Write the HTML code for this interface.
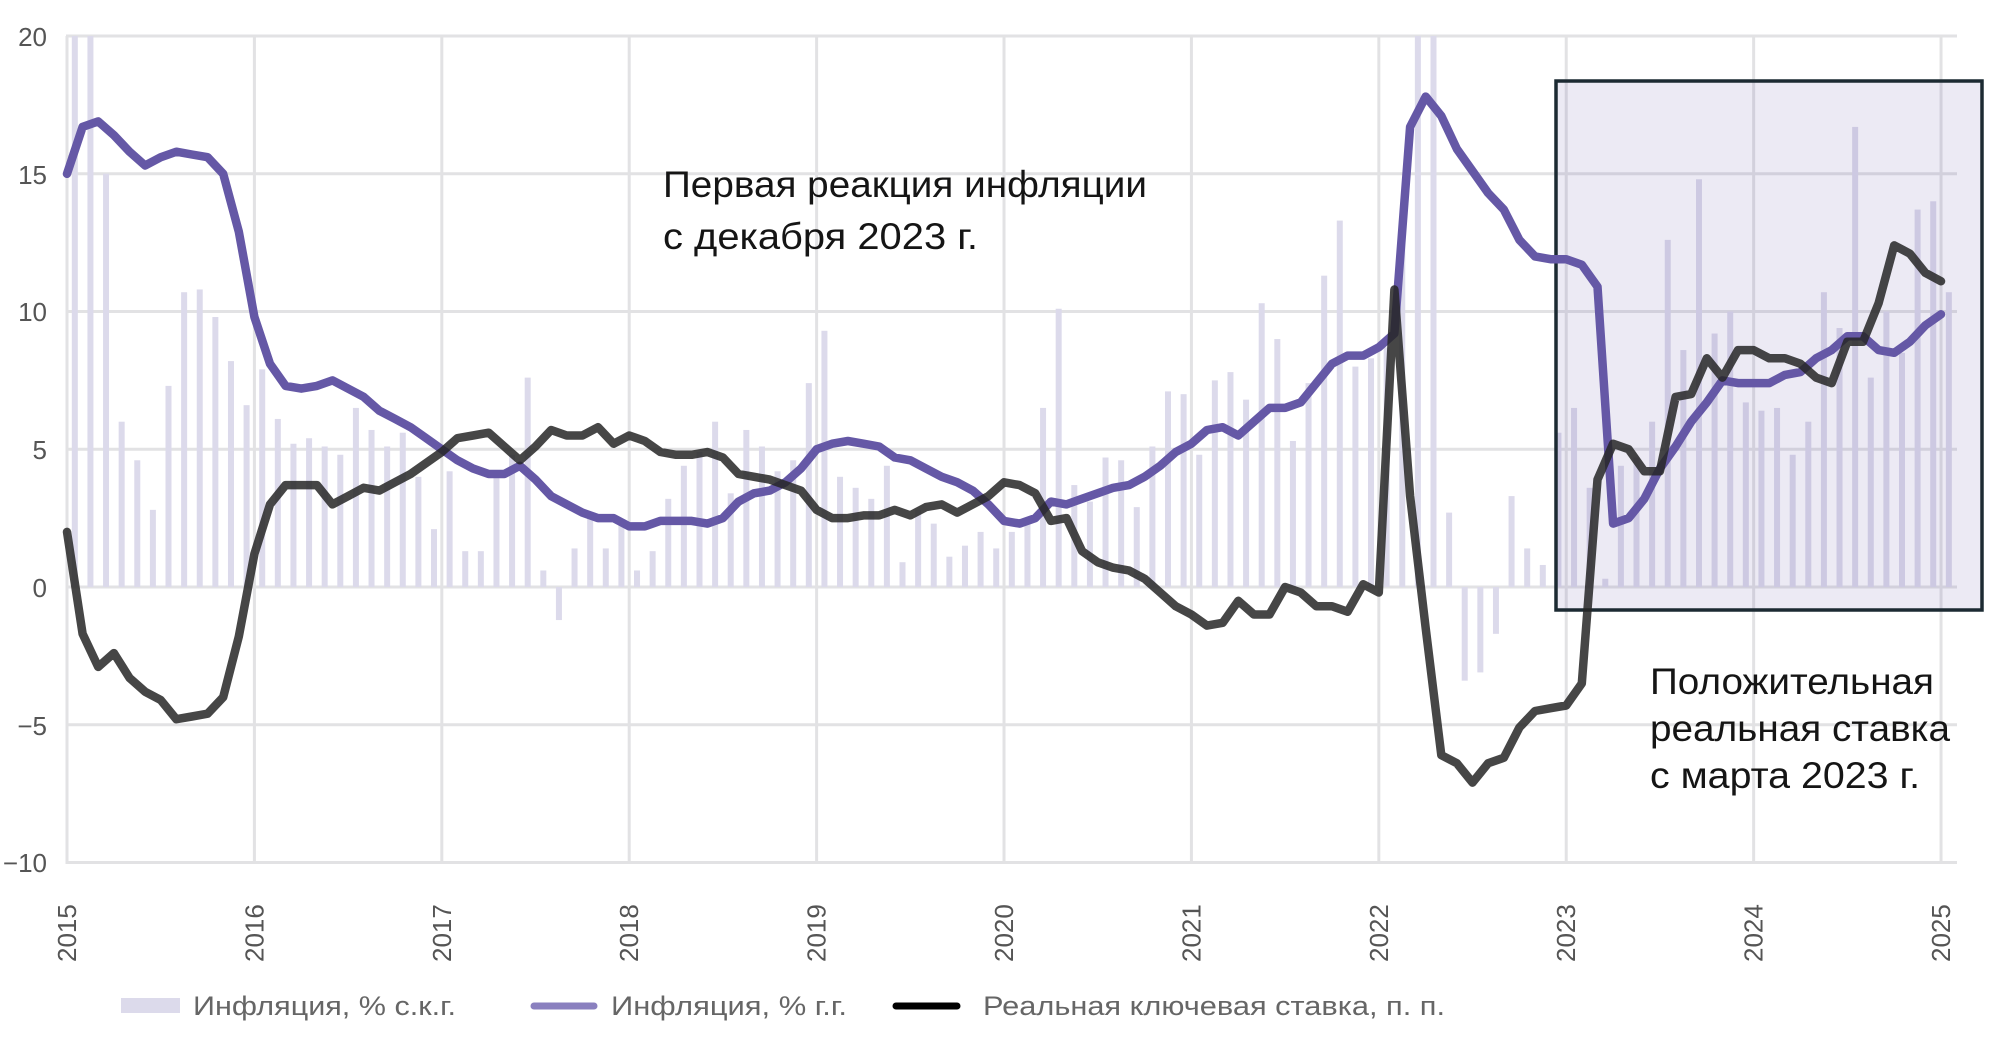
<!DOCTYPE html>
<html><head><meta charset="utf-8"><style>
html,body{margin:0;padding:0;background:#fff;}
svg{display:block;font-family:"Liberation Sans",sans-serif;}
</style></head><body>
<svg id="c" width="2010" height="1041" viewBox="0 0 2010 1041" xmlns="http://www.w3.org/2000/svg">
<g id="grid" stroke="#e2e2e4" stroke-width="3"></g>
<g id="bars" fill="#dcdaeb"></g>
<rect x="1556" y="81" width="426" height="529" fill="rgba(95,85,165,0.12)" stroke="#1c2a32" stroke-width="3.5"/>
<path id="pl" fill="none" stroke="#6558a6" stroke-width="8.5" stroke-linejoin="round" stroke-linecap="round"/>
<path id="bl" fill="none" stroke="#262626" stroke-opacity="0.85" stroke-width="8.5" stroke-linejoin="round" stroke-linecap="round"/>
<g font-size="26" fill="#555" text-anchor="end">
<text x="47" y="46">20</text><text x="47" y="184">15</text><text x="47" y="321">10</text>
<text x="47" y="459">5</text><text x="47" y="597">0</text><text x="47" y="735">−5</text><text x="47" y="872">−10</text>
</g>
<g id="xl" font-size="26" fill="#555"></g>
<g font-size="37" fill="#151515">
<text x="663" y="197" textLength="484" lengthAdjust="spacingAndGlyphs">Первая реакция инфляции</text>
<text x="663" y="249" textLength="315" lengthAdjust="spacingAndGlyphs">с декабря 2023 г.</text>
<text x="1650" y="694" textLength="284" lengthAdjust="spacingAndGlyphs">Положительная</text>
<text x="1650" y="741" textLength="300" lengthAdjust="spacingAndGlyphs">реальная ставка</text>
<text x="1650" y="788" textLength="270" lengthAdjust="spacingAndGlyphs">с марта 2023 г.</text>
</g>
<rect x="121" y="998" width="59" height="15" fill="#dcdaeb"/>
<line x1="534" y1="1006" x2="594" y2="1006" stroke="#8a80bf" stroke-width="7" stroke-linecap="round"/>
<line x1="896" y1="1006" x2="957" y2="1006" stroke="#000" stroke-width="7" stroke-linecap="round"/>
<g font-size="27" fill="#666">
<text x="193" y="1015" textLength="263" lengthAdjust="spacingAndGlyphs">Инфляция, % с.к.г.</text>
<text x="611" y="1015" textLength="236" lengthAdjust="spacingAndGlyphs">Инфляция, % г.г.</text>
<text x="983" y="1015" textLength="462" lengthAdjust="spacingAndGlyphs">Реальная ключевая ставка, п. п.</text>
</g>
</svg>
<script>
var NS="http://www.w3.org/2000/svg";
function Y(v){return 587-27.55*v;}
function X(m){return 67+15.617*m;}
var g=document.getElementById('grid');
function ln(x1,y1,x2,y2){var l=document.createElementNS(NS,'line');l.setAttribute('x1',x1);l.setAttribute('y1',y1);l.setAttribute('x2',x2);l.setAttribute('y2',y2);g.appendChild(l);}
for(var v=-10;v<=20;v+=5)ln(66,Y(v),1957,Y(v));
var xl=document.getElementById('xl');
for(var yr=0;yr<=10;yr++){var x=X(yr*12);ln(x,36,x,864);
var t=document.createElementNS(NS,'text');t.setAttribute('transform','translate('+(x+9)+',962) rotate(-90)');t.textContent=2015+yr;xl.appendChild(t);}
var bars=[25,25,15,6,4.6,2.8,7.3,10.7,10.8,9.8,8.2,6.6,
7.9,6.1,5.2,5.4,5.1,4.8,6.5,5.7,5.1,5.6,4.0,2.1,
4.2,1.3,1.3,4.0,4.8,7.6,0.6,-1.2,1.4,2.6,1.4,2.4,
0.6,1.3,3.2,4.4,4.9,6.0,3.4,5.7,5.1,4.2,4.6,7.4,
9.3,4.0,3.6,3.2,4.4,0.9,2.8,2.3,1.1,1.5,2.0,1.4,
2.0,2.4,6.5,10.1,3.7,3.1,4.7,4.6,2.9,5.1,7.1,7.0,
4.8,7.5,7.8,6.8,10.3,9.0,5.3,7.4,11.3,13.3,8.0,8.3,
8.7,12.5,25,25,2.7,-3.4,-3.1,-1.7,3.3,1.4,0.8,5.6,
6.5,3.6,0.3,4.4,4.7,6.0,12.6,8.6,14.8,9.2,10.0,6.7,
6.4,6.5,4.8,6.0,10.7,9.4,16.7,7.6,10.0,8.5,13.7,14.0,10.7];
var bg=document.getElementById('bars');
bars.forEach(function(v,i){var r=document.createElementNS(NS,'rect');var x=X(i+0.5)-3;var y0=Y(0),y1=Math.max(36,Y(v));
r.setAttribute('x',x);r.setAttribute('width',6);r.setAttribute('y',Math.min(y0,y1));r.setAttribute('height',Math.abs(y0-y1));bg.appendChild(r);});
var p=[15.0,16.7,16.9,16.4,15.8,15.3,15.6,15.8,15.7,15.6,15.0,12.9,
9.8,8.1,7.3,7.2,7.3,7.5,7.2,6.9,6.4,6.1,5.8,5.4,
5.0,4.6,4.3,4.1,4.1,4.4,3.9,3.3,3.0,2.7,2.5,2.5,
2.2,2.2,2.4,2.4,2.4,2.3,2.5,3.1,3.4,3.5,3.8,4.3,
5.0,5.2,5.3,5.2,5.1,4.7,4.6,4.3,4.0,3.8,3.5,3.0,
2.4,2.3,2.5,3.1,3.0,3.2,3.4,3.6,3.7,4.0,4.4,4.9,
5.2,5.7,5.8,5.5,6.0,6.5,6.5,6.7,7.4,8.1,8.4,8.4,
8.7,9.2,16.7,17.8,17.1,15.9,15.1,14.3,13.7,12.6,12.0,11.9,
11.9,11.7,10.9,2.3,2.5,3.2,4.3,5.1,6.0,6.7,7.5,7.4,
7.4,7.4,7.7,7.8,8.3,8.6,9.1,9.1,8.6,8.5,8.9,9.5,9.9];
var b=[2.0,-1.7,-2.9,-2.4,-3.3,-3.8,-4.1,-4.8,-4.7,-4.6,-4.0,-1.8,
1.2,3.0,3.7,3.7,3.7,3.0,3.3,3.6,3.5,3.8,4.1,4.5,
4.9,5.4,5.5,5.6,5.1,4.6,5.1,5.7,5.5,5.5,5.8,5.2,
5.5,5.3,4.9,4.8,4.8,4.9,4.7,4.1,4.0,3.9,3.7,3.5,
2.8,2.5,2.5,2.6,2.6,2.8,2.6,2.9,3.0,2.7,3.0,3.3,
3.8,3.7,3.4,2.4,2.5,1.3,0.9,0.7,0.6,0.3,-0.2,-0.7,
-1.0,-1.4,-1.3,-0.5,-1.0,-1.0,0.0,-0.2,-0.7,-0.7,-0.9,0.1,
-0.2,10.8,3.3,-1.5,-6.1,-6.4,-7.1,-6.4,-6.2,-5.1,-4.5,-4.4,
-4.3,-3.5,3.9,5.2,5.0,4.2,4.2,6.9,7.0,8.3,7.6,8.6,
8.6,8.3,8.3,8.1,7.6,7.4,8.9,8.9,10.3,12.4,12.1,11.4,11.1];
function path(a){return a.map(function(v,i){return (i?'L':'M')+X(i).toFixed(1)+','+Y(v).toFixed(1);}).join('');}
document.getElementById('pl').setAttribute('d',path(p));
document.getElementById('bl').setAttribute('d',path(b));
</script>
</body></html>
